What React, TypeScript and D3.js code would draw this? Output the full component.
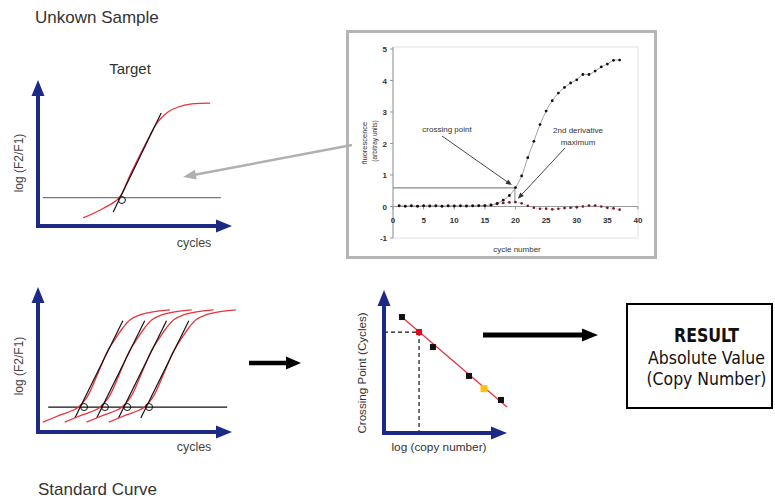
import React from 'react';
import * as d3 from 'd3';

type Pt = [number, number];

// ---------- Data: unknown sample (target) schematic ----------
const targetCurve: Pt[] = [[9.3, 0.55], [13.4, 1.2], [16.7, 1.92], [18.8, 3.36], [20.8, 4.73], [22.9, 6.1], [24.1, 6.85], [25.4, 7.4], [26.8, 7.81], [28.9, 8.15], [31.75, 8.36], [35.5, 8.42]];
const targetThreshold = 1.94;
const targetThresholdSpan: Pt = [1.0, 37.7];
const targetTangent: Pt[] = [[15.5, 0.96], [25.4, 7.74]];
const targetCrossing: Pt = [17.3, 1.78];

// ---------- Data: standard curve schematic ----------
const standardShape: Pt[] = [[1.0, 0.68], [4.5, 1.16], [8.0, 1.64], [10.1, 2.4], [12.6, 4.25], [14.4, 5.62], [16.1, 6.51], [17.5, 7.19], [19.0, 7.74], [21.0, 8.08], [23.7, 8.29], [27.2, 8.42]];
const standardShifts = [0, 4.5, 9.0, 13.6];
const standardTangent: Pt[] = [[7.6, 0.96], [17.5, 7.67]];
const standardCrossings = [9.5, 13.8, 18.4, 22.9];
const standardThreshold = 1.72;
const standardThresholdSpan: Pt = [2.1, 39.0];

// ---------- Data: calibration (crossing point vs log copy number) ----------
const calibX = [1.46, 3.98, 6.91, 9.51];
const calibY = [8.11, 6.01, 3.99, 2.31];
const unknownPoint: Pt = [2.85, 7.06];
const highlightPoint: Pt = [8.13, 3.1];
const fitLine: Pt[] = [[1.54, 8.04], [10.0, 1.82]];

// ---------- Data: inset fluorescence chart ----------
const cycles = d3.range(1, 38);
const amplification = [0.02, 0.01, 0.02, 0.01, 0.02, 0.02, 0.02, 0.01, 0.02, 0.02, 0.02, 0.02, 0.02, 0.03, 0.03, 0.05, 0.1, 0.2, 0.35, 0.6, 0.97, 1.55, 2.07, 2.6, 3.03, 3.36, 3.6, 3.78, 3.92, 4.02, 4.19, 4.19, 4.3, 4.43, 4.52, 4.64, 4.65];
const secondDerivative = [0.02, 0.01, 0.02, 0.01, 0.02, 0.01, 0.02, 0.01, 0.02, 0.01, 0.02, 0.01, 0.02, 0.02, 0.02, 0.04, 0.08, 0.11, 0.13, 0.14, 0.1, 0.02, -0.04, -0.07, -0.07, -0.09, -0.07, -0.05, -0.04, -0.02, 0.0, 0.03, 0.03, 0.0, -0.04, -0.06, -0.1];
const insetXTicks = [0, 5, 10, 15, 20, 25, 30, 35, 40];
const insetYTicks = [-1, 0, 1, 2, 3, 4, 5];
const crossingLevel = 0.59;
const crossingCycle = 19.9;

const AXIS_BLUE = '#1c2a86';
const RED = '#e8343c';
const FONT = '"Liberation Sans", Arial, Helvetica, sans-serif';
const NARROW = '"Liberation Sans Narrow", "Arial Narrow", "DejaVu Sans Condensed", sans-serif';

function ArrowHead({ from, to, len, half, fill }: { from: Pt; to: Pt; len: number; half: number; fill: string }) {
  const dx = to[0] - from[0], dy = to[1] - from[1];
  const L = Math.hypot(dx, dy);
  const ux = dx / L, uy = dy / L;
  const bx = to[0] - ux * len, by = to[1] - uy * len;
  const pts = [to, [bx - uy * half, by + ux * half], [bx + uy * half, by - ux * half]];
  return <polygon points={pts.map(p => p.join(',')).join(' ')} fill={fill} />;
}

function Arrow({ from, to, width, len, half, color }: { from: Pt; to: Pt; width: number; len: number; half: number; color: string }) {
  const dx = to[0] - from[0], dy = to[1] - from[1];
  const L = Math.hypot(dx, dy);
  const end: Pt = [to[0] - (dx / L) * (len - 1), to[1] - (dy / L) * (len - 1)];
  return (
    <g>
      <line x1={from[0]} y1={from[1]} x2={end[0]} y2={end[1]} stroke={color} strokeWidth={width} />
      <ArrowHead from={from} to={to} len={len} half={half} fill={color} />
    </g>
  );
}

function BlueAxes({ x, y }: { x: d3.ScaleLinear<number, number>; y: d3.ScaleLinear<number, number> }) {
  const x0 = x.range()[0], xTip = x.range()[1];
  const y0 = y.range()[0], yTip = y.range()[1];
  return (
    <g>
      <Arrow from={[x0, y0 + 2]} to={[x0, yTip]} width={4} len={16} half={6.5} color={AXIS_BLUE} />
      <Arrow from={[x0 - 2, y0]} to={[xTip, y0]} width={4} len={16} half={6.5} color={AXIS_BLUE} />
    </g>
  );
}

export default function App() {
  // scales
  const tx = d3.scaleLinear([0, 40], [38, 232]);
  const ty = d3.scaleLinear([0, 10], [226, 80]);
  const sx = d3.scaleLinear([0, 40], [38, 232]);
  const sy = d3.scaleLinear([0, 10], [432, 287]);
  const cx = d3.scaleLinear([0, 10], [384, 507]);
  const cy = d3.scaleLinear([0, 10], [433, 290]);
  const ix = d3.scaleLinear([0, 40], [393, 638]);
  const iy = d3.scaleLinear([-1, 5], [238, 49]);

  const tLine = d3.line<Pt>().x(d => tx(d[0])).y(d => ty(d[1])).curve(d3.curveCatmullRom);
  const sLine = (shift: number) => d3.line<Pt>().x(d => sx(d[0] + shift)).y(d => sy(d[1])).curve(d3.curveCatmullRom);
  const ampLine = d3.line<number>().x((_, i) => ix(cycles[i])).y(d => iy(d)).curve(d3.curveCatmullRom);
  const derLine = d3.line<number>().x((_, i) => ix(cycles[i])).y(d => iy(d)).curve(d3.curveCatmullRom);

  return (
    <svg width={775} height={501} viewBox="0 0 775 501" style={{ position: 'absolute', left: 0, top: 0, background: '#fff' }} fontFamily={FONT}>
      <rect x={0} y={0} width={775} height={501} fill="#fff" />

      {/* Titles */}
      <text x={35} y={23} fontSize={17} fill="#333">Unkown Sample</text>
      <text x={38} y={495} fontSize={17} fill="#333">Standard Curve</text>
      <text x={130} y={74} fontSize={15} fill="#333" textAnchor="middle">Target</text>

      {/* ---------- Target chart ---------- */}
      <line x1={tx(targetThresholdSpan[0])} x2={tx(targetThresholdSpan[1])} y1={ty(targetThreshold)} y2={ty(targetThreshold)} stroke="#777" strokeWidth={1.2} />
      <path d={tLine(targetCurve) || ''} fill="none" stroke={RED} strokeWidth={1.3} />
      <line x1={tx(targetTangent[0][0])} y1={ty(targetTangent[0][1])} x2={tx(targetTangent[1][0])} y2={ty(targetTangent[1][1])} stroke="#111" strokeWidth={1.2} />
      <circle cx={tx(targetCrossing[0])} cy={ty(targetCrossing[1])} r={3.5} fill="none" stroke="#111" strokeWidth={1} />
      <BlueAxes x={tx} y={ty} />
      <text transform={`translate(23,163) rotate(-90)`} fontSize={12} fill="#444" textAnchor="middle">log (F2/F1)</text>
      <text x={194} y={247} fontSize={12.5} fill="#444" textAnchor="middle">cycles</text>

      {/* ---------- Standard curve chart ---------- */}
      <line x1={sx(standardThresholdSpan[0])} x2={sx(standardThresholdSpan[1])} y1={sy(standardThreshold)} y2={sy(standardThreshold)} stroke="#111" strokeWidth={1.2} />
      {standardShifts.map((s, i) => (
        <g key={i}>
          <path d={sLine(s)(standardShape) || ''} fill="none" stroke={RED} strokeWidth={1.3} />
          <line x1={sx(standardTangent[0][0] + s)} y1={sy(standardTangent[0][1])} x2={sx(standardTangent[1][0] + s)} y2={sy(standardTangent[1][1])} stroke="#111" strokeWidth={1.2} />
          <circle cx={sx(standardCrossings[i])} cy={sy(standardThreshold)} r={3.5} fill="none" stroke="#111" strokeWidth={1} />
        </g>
      ))}
      <BlueAxes x={sx} y={sy} />
      <text transform={`translate(23,366) rotate(-90)`} fontSize={12} fill="#444" textAnchor="middle">log (F2/F1)</text>
      <text x={194} y={451} fontSize={12.5} fill="#444" textAnchor="middle">cycles</text>

      {/* arrow standard -> calibration */}
      <Arrow from={[249, 363]} to={[301, 363]} width={4.5} len={15} half={6.5} color="#000" />

      {/* ---------- Calibration chart ---------- */}
      <line x1={cx(0)} y1={cy(unknownPoint[1])} x2={cx(unknownPoint[0])} y2={cy(unknownPoint[1])} stroke="#111" strokeWidth={1.2} strokeDasharray="4,3" />
      <line x1={cx(unknownPoint[0])} y1={cy(unknownPoint[1])} x2={cx(unknownPoint[0])} y2={cy(0)} stroke="#111" strokeWidth={1.2} strokeDasharray="4,3" />
      <line x1={cx(fitLine[0][0])} y1={cy(fitLine[0][1])} x2={cx(fitLine[1][0])} y2={cy(fitLine[1][1])} stroke={RED} strokeWidth={1.3} />
      {calibX.map((v, i) => (
        <rect key={i} x={cx(v) - 3} y={cy(calibY[i]) - 3} width={6} height={6} fill="#111" />
      ))}
      <rect x={cx(unknownPoint[0]) - 3} y={cy(unknownPoint[1]) - 3} width={6} height={6} fill="#e3001b" />
      <rect x={cx(highlightPoint[0]) - 3.5} y={cy(highlightPoint[1]) - 3.5} width={7} height={7} fill="#ffc20e" />
      <BlueAxes x={cx} y={cy} />
      <text transform={`translate(366,373) rotate(-90)`} fontSize={11.6} fill="#333" textAnchor="middle">Crossing Point (Cycles)</text>
      <text x={439} y={451} fontSize={11.8} fill="#333" textAnchor="middle">log (copy number)</text>

      {/* arrow calibration -> result */}
      <Arrow from={[483, 335]} to={[598, 335]} width={5} len={16} half={6.5} color="#000" />

      {/* Result box */}
      <rect x={627} y={304} width={145} height={104} fill="#fff" stroke="#000" strokeWidth={2} />
      <text x={706.5} y={342} fontFamily={NARROW} fontWeight="bold" fontSize={19} fill="#111" textAnchor="middle" textLength={65} lengthAdjust="spacingAndGlyphs">RESULT</text>
      <text x={706.5} y={364} fontFamily={NARROW} fontSize={17} fill="#111" textAnchor="middle" textLength={117} lengthAdjust="spacingAndGlyphs">Absolute Value</text>
      <text x={706.5} y={385} fontFamily={NARROW} fontSize={17} fill="#111" textAnchor="middle" textLength={120} lengthAdjust="spacingAndGlyphs">(Copy Number)</text>

      {/* ---------- Inset chart ---------- */}
      <rect x={347.5} y={31.5} width={308} height={226} fill="#fff" stroke="#b5b5b5" strokeWidth={3} />
      <rect x={ix(0)} y={iy(5) - 2} width={ix(40) - ix(0)} height={iy(-1) - iy(5) + 2} fill="none" stroke="#e2e2e2" strokeWidth={1} />
      <line x1={ix(0)} x2={ix(0)} y1={iy(5) - 2} y2={iy(-1)} stroke="#999" strokeWidth={1} />
      <line x1={ix(0)} x2={ix(40)} y1={iy(0)} y2={iy(0)} stroke="#999" strokeWidth={1} />
      {insetYTicks.map(t => (
        <g key={t}>
          <line x1={ix(0) - 3} x2={ix(0)} y1={iy(t)} y2={iy(t)} stroke="#999" strokeWidth={1} />
          <text x={ix(0) - 6} y={iy(t) + 3} fontSize={8} fontWeight="bold" fill="#333" textAnchor="end">{t}</text>
        </g>
      ))}
      {insetXTicks.map(t => (
        <g key={t}>
          <line x1={ix(t)} x2={ix(t)} y1={iy(0)} y2={iy(0) + 3} stroke="#999" strokeWidth={1} />
          <text x={ix(t)} y={iy(0) + 16} fontSize={8} fontWeight="bold" fill="#333" textAnchor="middle">{t}</text>
        </g>
      ))}
      <text transform={`translate(367,143) rotate(-90)`} fontSize={7.5} fill="#333" textAnchor="middle">fluorescence</text>
      <text transform={`translate(377,141) rotate(-90)`} fontSize={6.5} fill="#333" textAnchor="middle">(arbitray units)</text>
      <text x={517} y={252} fontSize={8} fill="#333" textAnchor="middle">cycle number</text>

      {/* crossing point guide */}
      <line x1={ix(0)} x2={ix(crossingCycle)} y1={iy(crossingLevel)} y2={iy(crossingLevel)} stroke="#888" strokeWidth={1.2} />
      <line x1={ix(crossingCycle)} x2={ix(crossingCycle)} y1={iy(crossingLevel)} y2={iy(0.1)} stroke="#888" strokeWidth={1} />

      <path d={derLine(secondDerivative) || ''} fill="none" stroke="#c99" strokeWidth={0.8} strokeDasharray="1.5,1.5" />
      {secondDerivative.map((v, i) => (
        <circle key={'d' + i} cx={ix(cycles[i])} cy={iy(v)} r={1.3} fill="#6b1d2c" />
      ))}
      <path d={ampLine(amplification) || ''} fill="none" stroke="#999" strokeWidth={0.9} />
      {amplification.map((v, i) => (
        <circle key={'a' + i} cx={ix(cycles[i])} cy={iy(v)} r={1.4} fill="#111" />
      ))}

      <text x={447} y={132} fontSize={8} fill="#333" textAnchor="middle">crossing point</text>
      <Arrow from={[442, 136]} to={[ix(19.4), iy(0.68)]} width={0.9} len={6} half={2.5} color="#333" />
      <text x={578} y={133} fontSize={8} fill="#333" textAnchor="middle">2nd derivative</text>
      <text x={578} y={145} fontSize={8} fill="#333" textAnchor="middle">maximum</text>
      <Arrow from={[565, 148]} to={[ix(20.4), iy(0.25)]} width={0.9} len={6} half={2.5} color="#333" />

      {/* big gray connector arrow */}
      <Arrow from={[352, 145]} to={[183, 177]} width={2.5} len={13} half={5} color="#b0b0b0" />
    </svg>
  );
}
